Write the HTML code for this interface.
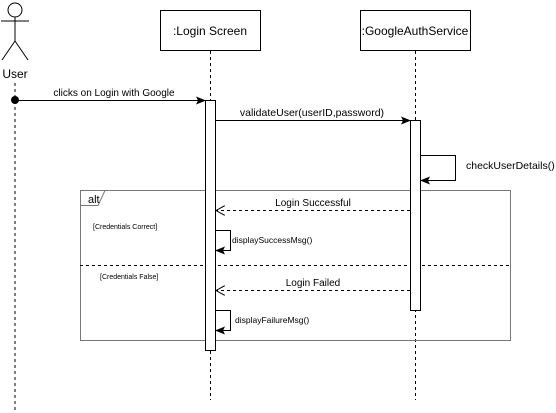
<!DOCTYPE html>
<html><head><style>body{margin:0;background:#fff}svg{display:block}text{font-family:"Liberation Sans",sans-serif}</style></head><body>
<svg width="556" height="413" viewBox="0 0 556 413" xmlns="http://www.w3.org/2000/svg">
<defs>
<marker id="f" markerWidth="10" markerHeight="8" refX="9" refY="4" orient="auto" markerUnits="userSpaceOnUse"><path d="M0,0 L10,4 L0,8 L2,4 Z" fill="#000"/></marker>
<marker id="o" markerWidth="10" markerHeight="10" refX="9" refY="5" orient="auto" markerUnits="userSpaceOnUse"><path d="M0,0 L9,5 L0,10" fill="none" stroke="#000"/></marker>
</defs>
<circle cx="15" cy="10" r="7" fill="#fff" stroke="#000"/>
<line x1="15" y1="17" x2="15" y2="41" stroke="#000"/>
<line x1="1" y1="21" x2="29" y2="21" stroke="#000"/>
<line x1="15" y1="41" x2="2" y2="60" stroke="#000"/>
<line x1="15" y1="41" x2="28" y2="60" stroke="#000"/>
<text x="15" y="78" font-size="12" text-anchor="middle">User</text>
<line x1="15" y1="83" x2="15" y2="410" stroke="#000" stroke-dasharray="3,3"/>
<rect x="160.5" y="10.5" width="100" height="40" fill="#fff" stroke="#000"/>
<text x="210" y="35" font-size="12" text-anchor="middle">:Login Screen</text>
<rect x="360.5" y="10.5" width="110" height="40" fill="#fff" stroke="#000"/>
<text x="415" y="35" font-size="12" text-anchor="middle">:GoogleAuthService</text>
<line x1="210.5" y1="51" x2="210.5" y2="400" stroke="#000" stroke-dasharray="3,3"/>
<line x1="415.5" y1="51" x2="415.5" y2="400" stroke="#000" stroke-dasharray="3,3"/>
<rect x="80.5" y="190.5" width="430" height="150" fill="none" stroke="#777"/>
<path d="M80.5,205.5 H98 L105,190.5" fill="none" stroke="#777"/>
<text x="88" y="203" font-size="11">alt</text>
<line x1="80" y1="265.5" x2="510" y2="265.5" stroke="#000" stroke-dasharray="3,3"/>
<text x="93" y="229" font-size="7" font-family="Liberation Serif">[Credentials Correct]</text>
<text x="100" y="279" font-size="7" font-family="Liberation Serif">[Credentials False]</text>
<rect x="205.5" y="100.5" width="10" height="250" fill="#fff" stroke="#000"/>
<rect x="410.5" y="120.5" width="10" height="190" fill="#fff" stroke="#000"/>
<circle cx="15" cy="100" r="4" fill="#000"/>
<line x1="15" y1="100.5" x2="205" y2="100.5" stroke="#000" marker-end="url(#f)"/>
<text x="114" y="96" font-size="10" text-anchor="middle">clicks on Login with Google</text>
<line x1="215" y1="120.5" x2="410" y2="120.5" stroke="#000" marker-end="url(#f)"/>
<text x="312" y="116" font-size="10.5" text-anchor="middle">validateUser(userID,password)</text>
<path d="M421,155.5 H455.5 V180.5 H421" fill="none" stroke="#000" marker-end="url(#f)"/>
<text x="466" y="169" font-size="10.5">checkUserDetails()</text>
<line x1="410" y1="210.5" x2="216" y2="210.5" stroke="#000" stroke-dasharray="3,3" marker-end="url(#o)"/>
<text x="313" y="206" font-size="10" text-anchor="middle">Login Successful</text>
<path d="M216,230.5 H230.5 V250.5 H216" fill="none" stroke="#000" marker-end="url(#f)"/>
<text x="232" y="243" font-size="8.5">displaySuccessMsg()</text>
<line x1="410" y1="290.5" x2="216" y2="290.5" stroke="#000" stroke-dasharray="3,3" marker-end="url(#o)"/>
<text x="313" y="286" font-size="10" text-anchor="middle">Login Failed</text>
<path d="M216,310.5 H230.5 V330.5 H216" fill="none" stroke="#000" marker-end="url(#f)"/>
<text x="235" y="323" font-size="8.5">displayFailureMsg()</text>
</svg>
</body></html>
